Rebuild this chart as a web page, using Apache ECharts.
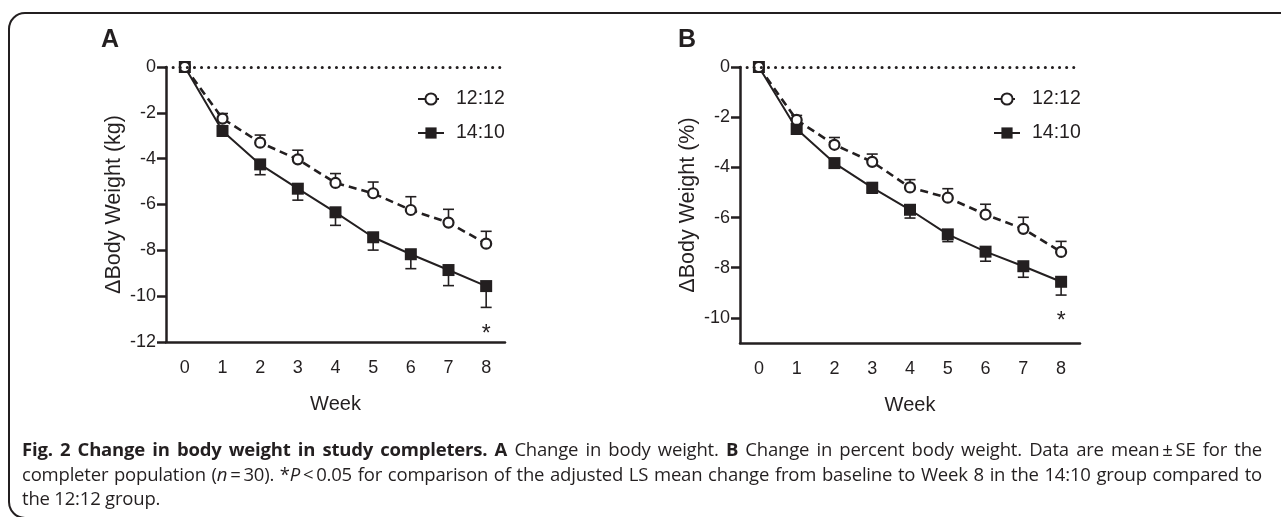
<!DOCTYPE html>
<html>
<head>
<meta charset="utf-8">
<script src="https://cdn.jsdelivr.net/npm/echarts@6/dist/echarts.min.js"></script>
<style>
  html, body { margin: 0; padding: 0; background: #fff; }
  #wrap { position: relative; width: 1281px; height: 517px; overflow: hidden; }
  #frame { position: absolute; left: 8px; top: 12px; width: 1400px; height: 507px; border: 2px solid #231f20; border-radius: 17px; box-sizing: border-box; }
  #chart { position: absolute; left: 0; top: 0; width: 1281px; height: 517px; }
  #caption { position: absolute; left: 22px; top: 437px; width: 1240px; font-family: 'Open Sans', sans-serif; font-size: 18.5px; line-height: 24.5px; color: #231f20; letter-spacing: -0.2px; }
  .ln { text-align: justify; text-align-last: justify; white-space: nowrap; }
  .last { text-align: left; }
</style>
</head>
<body>
<div id="wrap">
  <div id="frame"></div>
  <div id="chart"></div>
  <div id="caption">
    <div class="ln"><b>Fig. 2 Change in body weight in study completers.</b> <b>A</b> Change in body weight. <b>B</b> Change in percent body weight. Data are mean&#8201;±&#8201;SE for the</div>
    <div class="ln">completer population (<i>n</i>&#8201;=&#8201;30). *<i>P</i>&#8201;&lt;&#8201;0.05 for comparison of the adjusted LS mean change from baseline to Week 8 in the 14:10 group compared to</div>
    <div class="last">the 12:12 group.</div>
  </div>
</div>
<script>
const weeks = ['0', '1', '2', '3', '4', '5', '6', '7', '8'];

// panel A: change in body weight (kg)
const kg1212 = [0, -2.25, -3.30, -4.03, -5.06, -5.51, -6.24, -6.79, -7.71];
const kg1212Se = [0, 0.22, 0.33, 0.40, 0.41, 0.49, 0.58, 0.58, 0.54];
const kg1410 = [0, -2.79, -4.25, -5.31, -6.34, -7.43, -8.17, -8.86, -9.56];
const kg1410Se = [0, 0.22, 0.45, 0.50, 0.57, 0.56, 0.63, 0.68, 0.93];
const kgStar = [[8, -11.4]];

// panel B: change in percent body weight
const pct1212 = [0, -2.11, -3.10, -3.78, -4.80, -5.21, -5.88, -6.45, -7.37];
const pct1212Se = [0, 0.18, 0.29, 0.31, 0.31, 0.36, 0.41, 0.46, 0.42];
const pct1410 = [0, -2.47, -3.83, -4.81, -5.69, -6.67, -7.36, -7.94, -8.56];
const pct1410Se = [0, 0.18, 0.20, 0.22, 0.33, 0.29, 0.38, 0.44, 0.53];
const pctStar = [[8, -9.9]];

const pctTicks = [-10, -8, -6, -4, -2, 0];

const ink = '#231f20';
const font = "'Liberation Sans', Arial, sans-serif";

const chart = echarts.init(document.getElementById('chart'));

function errData(vals, se) {
  return vals.map((v, i) => [i, v, se[i]]);
}

// dir = 1 draws the bar upward, -1 downward
function errBar(dir) {
  return function (params, api) {
    const i = api.value(0), v = api.value(1), se = api.value(2);
    if (!se) return null;
    const p0 = api.coord([i, v]);
    const p1 = api.coord([i, v + dir * se]);
    const half = 5.5;
    const st = { stroke: ink, lineWidth: 1.6 };
    return {
      type: 'group',
      children: [
        { type: 'line', shape: { x1: p0[0], y1: p0[1], x2: p1[0], y2: p1[1] }, style: st },
        { type: 'line', shape: { x1: p1[0] - half, y1: p1[1], x2: p1[0] + half, y2: p1[1] }, style: st }
      ]
    };
  };
}

function starItem(params, api) {
  const p = api.coord([api.value(0), api.value(1)]);
  return {
    type: 'text', x: p[0], y: p[1] + 6,
    style: { text: '*', fontSize: 23, fontFamily: font, fill: ink, align: 'center', verticalAlign: 'middle' }
  };
}

function xAxisFor(idx) {
  return {
    gridIndex: idx, type: 'category', data: weeks, boundaryGap: true,
    name: 'Week', nameLocation: 'middle', nameGap: 52,
    nameTextStyle: { fontSize: 20, color: ink, fontFamily: font },
    axisLine: { onZero: false, lineStyle: { color: ink, width: 2.5 } },
    axisTick: { alignWithLabel: true, length: 10, lineStyle: { color: ink, width: 2.5 } },
    axisLabel: { fontSize: 18, margin: 17, color: ink, fontFamily: font },
    splitLine: { show: false }
  };
}

function yAxisFor(idx, name, extra) {
  return Object.assign({
    gridIndex: idx, type: 'value', max: 0,
    name: name, nameLocation: 'middle', nameGap: 41,
    nameTextStyle: { fontSize: 21.5, color: ink, fontFamily: font },
    axisLine: { show: true, lineStyle: { color: ink, width: 2.5 } },
    axisTick: { show: true, length: 9, lineStyle: { color: ink, width: 2.5 } },
    axisLabel: { fontSize: 18, margin: 10, color: ink, fontFamily: font },
    splitLine: { show: false }
  }, extra);
}

function panelSeries(idx, v1212, se1212, v1410, se1410, star) {
  return [
    {
      name: 'err1410-' + idx, type: 'custom', xAxisIndex: idx, yAxisIndex: idx, z: 2,
      renderItem: errBar(-1), encode: { x: 0, y: 1 }, data: errData(v1410, se1410),
      markLine: {
        silent: true, symbol: 'none', label: { show: false },
        lineStyle: { color: ink, width: 3, type: [0.1, 7], cap: 'round' },
        data: [{ yAxis: 0 }]
      }
    },
    {
      name: 'err1212-' + idx, type: 'custom', xAxisIndex: idx, yAxisIndex: idx, z: 2,
      renderItem: errBar(1), encode: { x: 0, y: 1 }, data: errData(v1212, se1212)
    },
    {
      name: '14:10', type: 'line', xAxisIndex: idx, yAxisIndex: idx, z: 3,
      data: v1410, symbol: 'rect', symbolSize: 12,
      itemStyle: { color: ink },
      lineStyle: { color: ink, width: 2 }
    },
    {
      name: '12:12', type: 'line', xAxisIndex: idx, yAxisIndex: idx, z: 4,
      data: v1212, symbol: 'circle', symbolSize: 10,
      itemStyle: { color: '#fff', borderColor: ink, borderWidth: 2.2 },
      lineStyle: { color: ink, width: 2.6, type: [8, 5] }
    },
    {
      name: 'star-' + idx, type: 'custom', xAxisIndex: idx, yAxisIndex: idx, z: 5,
      renderItem: starItem, encode: { x: 0, y: 1 }, data: star
    }
  ];
}

function legendFor(left) {
  return {
    data: ['12:12', '14:10'], orient: 'vertical', left: left, top: 84,
    itemWidth: 26, itemHeight: 14, itemGap: 14,
    textStyle: { fontSize: 19.5, color: ink, fontFamily: font, padding: [0, 0, 0, 7] }
  };
}

const option = {
  animation: false,
  backgroundColor: 'transparent',
  title: [
    { text: 'A', left: 101, top: 28, padding: 0, textStyle: { fontSize: 25, fontWeight: 'bold', color: ink, fontFamily: font } },
    { text: 'B', left: 678, top: 28, padding: 0, textStyle: { fontSize: 25, fontWeight: 'bold', color: ink, fontFamily: font } }
  ],
  legend: [legendFor(412), legendFor(988)],
  grid: [
    { left: 166, top: 67, width: 339, height: 275 },
    { left: 740, top: 67, width: 340, height: 276 }
  ],
  xAxis: [xAxisFor(0), xAxisFor(1)],
  yAxis: [
    yAxisFor(0, 'ΔBody Weight (kg)', { min: -12, interval: 2 }),
    yAxisFor(1, 'ΔBody Weight (%)', {
      min: -11,
      axisTick: { show: true, length: 9, lineStyle: { color: ink, width: 2.5 }, customValues: pctTicks },
      axisLabel: { fontSize: 18, margin: 10, color: ink, fontFamily: font, customValues: pctTicks }
    })
  ],
  series: [].concat(
    panelSeries(0, kg1212, kg1212Se, kg1410, kg1410Se, kgStar),
    panelSeries(1, pct1212, pct1212Se, pct1410, pct1410Se, pctStar)
  )
};

chart.setOption(option);
</script>
</body>
</html>
